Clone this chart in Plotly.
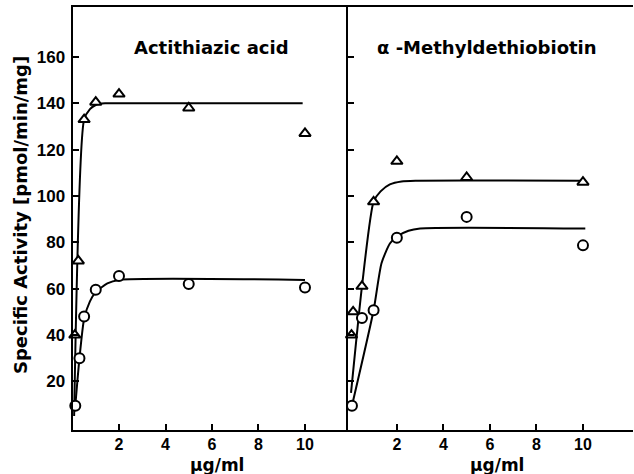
import plotly.graph_objects as go

# ---- data: Actithiazic acid panel ----
act_tri_x = [0.1, 0.25, 0.5, 1, 2, 5, 10]
act_tri_y = [40, 72, 133, 140.5, 144, 138, 127]
act_cir_x = [0.12, 0.3, 0.5, 1, 2, 5, 10]
act_cir_y = [9.5, 30, 48, 59.5, 65.5, 62, 60.5]
# fitted curves (hand-drawn in the original)
act_tri_fit_x = [0.07, 0.5, 0.75, 1.0, 1.4, 2.0, 9.9]
act_tri_fit_y = [5, 133, 137.5, 139.3, 140, 140, 140]
act_cir_fit_x = [0.12, 0.3, 0.5, 0.75, 1.0, 1.5, 2.0, 10]
act_cir_fit_y = [9.5, 30, 47, 54.5, 58.5, 62.3, 63.8, 63.8]

# ---- data: alpha-Methyldethiobiotin panel ----
mdb_tri_x = [0.05, 0.12, 0.5, 1, 2, 5, 10]
mdb_tri_y = [40, 50, 61, 97.5, 115, 108, 106]
mdb_cir_x = [0.07, 0.5, 1, 2, 5, 10]
mdb_cir_y = [9.5, 47.3, 50.7, 82, 91, 78.7]
mdb_tri_fit_x = [0.03, 0.5, 1.0, 1.3, 1.7, 2.2, 2.8, 9.9]
mdb_tri_fit_y = [15, 61, 97.6, 102, 105, 106.3, 106.6, 106.6]
mdb_cir_fit_x = [0.07, 1.0, 1.34, 1.7, 2.0, 2.5, 3.0, 10.1]
mdb_cir_fit_y = [9.5, 50.7, 71, 79.5, 82.5, 85, 86, 86]

x_ticks = [2, 4, 6, 8, 10]
y_ticks = [20, 40, 60, 80, 100, 120, 140, 160]

panel_titles = ["Actithiazic acid", "α -Methyldethiobiotin"]
x_title = "μg/ml"
y_title = "Specific Activity [pmol/min/mg]"

TICKFONT = "Liberation Sans"
TITLEFONT = "DejaVu Sans"
fig = go.Figure()

def add_panel(xa, ya, tx, ty, cx, cy, tfx, tfy, cfx, cfy):
    for fx, fy in ((tfx, tfy), (cfx, cfy)):
        fig.add_trace(go.Scatter(x=fx, y=fy, mode="lines",
                                 line=dict(color="black", width=2, shape="spline", smoothing=0.6),
                                 xaxis=xa, yaxis=ya, showlegend=False, hoverinfo="skip"))
    fig.add_trace(go.Scatter(x=tx, y=ty, mode="markers",
                             marker=dict(symbol="triangle-up", size=10, color="white", line=dict(color="black", width=2)),
                             xaxis=xa, yaxis=ya, showlegend=False, cliponaxis=False))
    fig.add_trace(go.Scatter(x=cx, y=cy, mode="markers",
                             marker=dict(symbol="circle", size=10, color="white", line=dict(color="black", width=2)),
                             xaxis=xa, yaxis=ya, showlegend=False, cliponaxis=False))

add_panel("x", "y", act_tri_x, act_tri_y, act_cir_x, act_cir_y,
          act_tri_fit_x, act_tri_fit_y, act_cir_fit_x, act_cir_fit_y)
add_panel("x2", "y2", mdb_tri_x, mdb_tri_y, mdb_cir_x, mdb_cir_y,
          mdb_tri_fit_x, mdb_tri_fit_y, mdb_cir_fit_x, mdb_cir_fit_y)

W, H = 634, 474
common_x = dict(showline=True, linecolor="black", linewidth=2, mirror=True, showgrid=False, zeroline=False,
                tickvals=x_ticks, ticktext=["<b>%d</b>" % v for v in x_ticks],
                ticks="inside", ticklen=6, tickwidth=2, tickcolor="black", ticklabelstandoff=-1,
                tickfont=dict(family=TICKFONT, size=16, color="black"))
common_y = dict(showline=True, linecolor="black", linewidth=2, showgrid=False, zeroline=False,
                tickvals=y_ticks, ticktext=["<b>%d</b>" % v for v in y_ticks],
                ticks="inside", ticklen=6, tickwidth=2, tickcolor="black",
                tickfont=dict(family=TICKFONT, size=17, color="black"),
                range=[-1, 181.6], domain=[1 - 430 / H, 1 - 7 / H])

ann_font = dict(family=TITLEFONT, size=18, color="black")
fig.update_layout(
    width=W, height=H, margin=dict(l=0, r=0, t=0, b=0),
    paper_bgcolor="white", plot_bgcolor="white",
    xaxis=dict(common_x, domain=[72.5 / W, 348 / W], range=[0, 11.85], anchor="y"),
    xaxis2=dict(common_x, domain=[348 / W, 633 / W], range=[-0.1, 12.15], anchor="y2"),
    yaxis=dict(common_y, mirror=False, anchor="x", showticklabels=True, ticklabelstandoff=2),
    yaxis2=dict(common_y, anchor="x2", showticklabels=False),
    annotations=[
        dict(text="<b>%s</b>" % panel_titles[0], x=211 / W, y=1 - 48 / H, xref="paper", yref="paper",
             xanchor="center", yanchor="middle", showarrow=False, font=ann_font),
        dict(text="<b>%s</b>" % panel_titles[1], x=487 / W, y=1 - 48 / H, xref="paper", yref="paper",
             xanchor="center", yanchor="middle", showarrow=False, font=ann_font),
        dict(text="<b>%s</b>" % x_title, x=217 / W, y=1 - 465 / H, xref="paper", yref="paper",
             xanchor="center", yanchor="middle", showarrow=False, font=dict(ann_font, size=17)),
        dict(text="<b>%s</b>" % x_title, x=497 / W, y=1 - 465 / H, xref="paper", yref="paper",
             xanchor="center", yanchor="middle", showarrow=False, font=dict(ann_font, size=17)),
        dict(text="<b>%s</b>" % y_title, x=20 / W, y=1 - 215 / H, xref="paper", yref="paper",
             xanchor="center", yanchor="middle", textangle=-90, showarrow=False, font=dict(ann_font, size=18)),
    ],
)

fig.write_html("out.html")
